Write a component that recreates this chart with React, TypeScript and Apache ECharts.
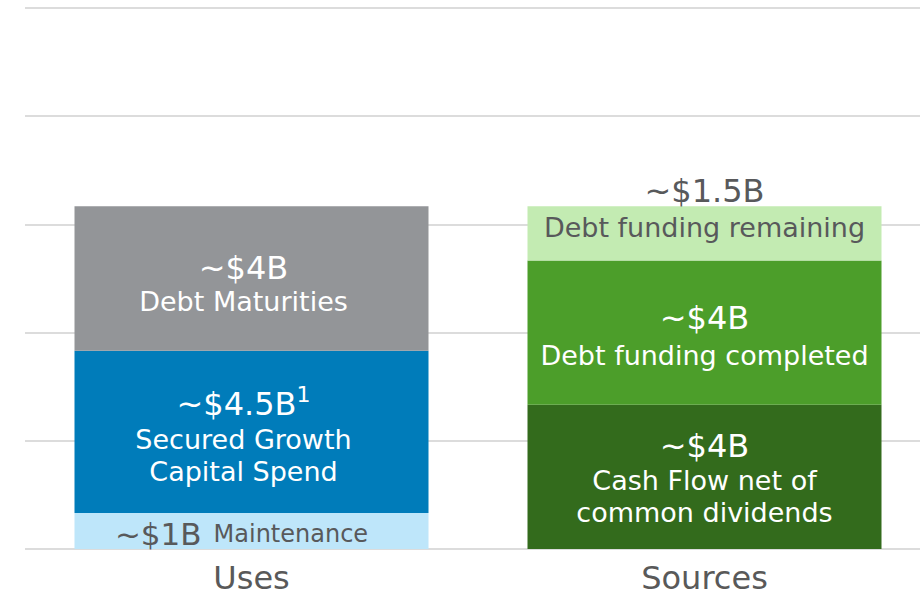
import React, { useEffect, useRef } from 'react';
import * as echarts from 'echarts';

const categories = ['Uses', 'Sources'];
const baseValues = [1, 4];
const midValues = [4.5, 4];
const topValues = [4, 1.5];
const baseAmounts = ['~$1B', '~$4B'];
const baseNames = ['Maintenance', 'Cash Flow net of\ncommon dividends'];
const midAmounts = ['~$4.5B', '~$4B'];
const midNotes = ['1', ''];
const midNames = ['Secured Growth\nCapital Spend', 'Debt funding completed'];
const topAmounts = ['~$4B', '~$1.5B'];
const topNames = ['Debt Maturities', 'Debt funding remaining'];
const yTicks = [0, 3, 6, 9, 12, 15];

const FONT = 'DejaVu Sans';
const WHITE = '#FFFFFF';
const DARK = '#58595B';

const baseColors = ['#BEE6FA', '#336B1C'];
const midColors = ['#007CBA', '#4C9E2A'];
const topColors = ['#939598', '#C3EBB2'];

function lines(text: string, style: string) {
  return text
    .split('\n')
    .map((t) => `{${style}|${t}}`)
    .join('\n');
}

export default function App() {
  const ref = useRef<HTMLDivElement>(null);
  useEffect(() => {
    if (!ref.current) return;
    const chart = echarts.init(ref.current, null, { renderer: 'svg' });

    const baseLabels = [
      {
        show: true,
        position: 'inside',
        offset: [-10, 3],
        formatter: `{v|${baseAmounts[0]}}{m|${baseNames[0]}}`,
        rich: {
          v: { fontFamily: FONT, fontSize: 31, color: DARK, lineHeight: 34 },
          m: { fontFamily: FONT, fontSize: 24, color: DARK, lineHeight: 34, padding: [0, 0, 0, 12] },
        },
      },
      {
        show: true,
        position: 'inside',
        offset: [0, 1],
        formatter: `{v|${baseAmounts[1]}}\n${lines(baseNames[1], 'l')}`,
        rich: {
          v: { fontFamily: FONT, fontSize: 32, color: WHITE, lineHeight: 38 },
          l: { fontFamily: FONT, fontSize: 27, color: WHITE, lineHeight: 32 },
        },
      },
    ];

    const midLabels = [
      {
        show: true,
        position: 'inside',
        offset: [-8, 4],
        formatter: `{v|${midAmounts[0]}}{sup|${midNotes[0]}}\n${lines(midNames[0], 'l')}`,
        rich: {
          v: { fontFamily: FONT, fontSize: 32, color: WHITE, lineHeight: 40 },
          sup: { fontFamily: FONT, fontSize: 22, color: WHITE, lineHeight: 26, verticalAlign: 'top' },
          l: { fontFamily: FONT, fontSize: 27, color: WHITE, lineHeight: 32 },
        },
      },
      {
        show: true,
        position: 'inside',
        offset: [0, 4],
        formatter: `{v|${midAmounts[1]}}\n${lines(midNames[1], 'l')}`,
        rich: {
          v: { fontFamily: FONT, fontSize: 32, color: WHITE, lineHeight: 38 },
          l: { fontFamily: FONT, fontSize: 27, color: WHITE, lineHeight: 38 },
        },
      },
    ];

    const topLabels = [
      {
        show: true,
        position: 'inside',
        offset: [-8, 6],
        formatter: `{v|${topAmounts[0]}}\n${lines(topNames[0], 'l')}`,
        rich: {
          v: { fontFamily: FONT, fontSize: 32, color: WHITE, lineHeight: 34 },
          l: { fontFamily: FONT, fontSize: 27, color: WHITE, lineHeight: 34 },
        },
      },
      {
        show: true,
        position: 'inside',
        offset: [0, -24],
        formatter: `{v|${topAmounts[1]}}\n${lines(topNames[1], 'l')}`,
        rich: {
          v: { fontFamily: FONT, fontSize: 32, color: DARK, lineHeight: 37 },
          l: { fontFamily: FONT, fontSize: 27, color: DARK, lineHeight: 37 },
        },
      },
    ];

    const mk = (vals: number[], colors: string[], labels: any[]) =>
      vals.map((v, i) => ({ value: v, itemStyle: { color: colors[i] }, label: labels[i] }));

    chart.setOption({
      animation: false,
      grid: { left: 25, right: 0, top: 8, bottom: 49, containLabel: false },
      xAxis: {
        type: 'category',
        data: categories,
        axisLine: { show: false },
        axisTick: { show: false },
        axisLabel: { fontFamily: FONT, fontSize: 32, color: '#595959', margin: 13 },
      },
      yAxis: {
        type: 'value',
        min: yTicks[0],
        max: yTicks[yTicks.length - 1],
        interval: yTicks[1] - yTicks[0],
        axisLabel: { show: false },
        axisLine: { show: false },
        axisTick: { show: false },
        splitLine: { show: true, lineStyle: { color: '#DCDCDC', width: 2 } },
      },
      series: [
        { type: 'bar', stack: 's', barWidth: 354, data: mk(baseValues, baseColors, baseLabels) },
        { type: 'bar', stack: 's', barWidth: 354, data: mk(midValues, midColors, midLabels) },
        { type: 'bar', stack: 's', barWidth: 354, data: mk(topValues, topColors, topLabels) },
      ],
    });
    return () => chart.dispose();
  }, []);
  return (
    <div
      style={{ position: 'fixed', left: 0, top: 0, width: 920, height: 598, overflow: 'hidden', background: '#FFFFFF' }}
    >
      <div ref={ref} style={{ width: 931, height: 598 }} />
    </div>
  );
}
